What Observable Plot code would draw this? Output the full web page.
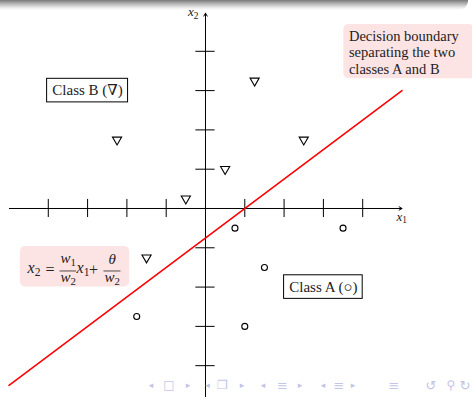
<!DOCTYPE html>
<html>
<head>
<meta charset="utf-8">
<script src="https://cdn.jsdelivr.net/npm/d3@7"></script>
<script src="https://cdn.jsdelivr.net/npm/@observablehq/plot@0.6"></script>
<style>
  html, body { margin: 0; padding: 0; background: #fff; }
  #slide { position: relative; width: 472px; height: 397px; overflow: hidden; background: #fff; }
  #slide svg { position: absolute; left: 0; top: 0; }
  .nav {
    position: absolute; transform: translate(-50%, -50%); z-index: 3;
    color: #c4c4e6; font-family: "DejaVu Sans", sans-serif; line-height: 1;
  }
</style>
</head>
<body>
<div id="slide"></div>
<script>
// Class B samples (drawn as ∇)
const classBx = [-2.25, 0.5, -0.5, 1.25, 2.5, -1.5];
const classBy = [1.75, 1, 0.25, 3.25, 1.75, -1.25];
// Class A samples (drawn as ○)
const classAx = [-1.75, 0.75, 3.5, 1.5, 1];
const classAy = [-2.75, -0.5, -0.5, -1.5, -3];
// Decision boundary x2 = 0.75 x1 - 0.75, end points
const boundaryX = [-5, 5];
const boundaryY = [-4.5, 3];
// Tick positions on both axes
const xTicks = [-4, -3, -2, -1, 1, 2, 3, 4];
const yTicks = [-4, -3, -2, -1, 1, 2, 3, 4];
// Beamer navigation glyphs along the bottom
const navGlyphs = ["◂", "□", "▸", "◂", "❐", "▸", "◂", "≡", "▸", "◂", "≡", "▸", "≡", "↺", "⚲", "↻"];
const navLeft = [151, 169, 188, 207.5, 222.5, 242, 263, 282.5, 300, 323, 339, 353, 394, 431, 451, 465];
const navSize = [9, 12, 9, 9, 12, 9, 9, 13, 9, 9, 13, 9, 13, 13, 12, 13];

const classB = classBx.map((x, i) => ({x, y: classBy[i]}));
const classA = classAx.map((x, i) => ({x, y: classAy[i]}));
const boundary = boundaryX.map((x, i) => ({x, y: boundaryY[i]}));

const serif = "'Liberation Serif', 'DejaVu Serif', serif";
const pink = "#fde4e4";
const ink = "#222";

const chart = Plot.plot({
  width: 472,
  height: 397,
  margin: 0,
  x: {domain: [-5.216, 6.794], range: [0, 472], axis: null},
  y: {domain: [-4.81, 5.293], range: [397, 0], axis: null},
  style: {background: "transparent", overflow: "visible"},
  marks: [
    // axes with arrow tips
    Plot.arrow([0], {x1: -4.99, x2: 5.0, y1: 0, y2: 0, stroke: "black", strokeWidth: 1, headLength: 5}),
    Plot.arrow([0], {x1: 0, x2: 0, y1: -4.9, y2: 4.97, stroke: "black", strokeWidth: 1, headLength: 5}),
    Plot.ruleX(xTicks, {x: d => d, y1: -0.23, y2: 0.23, stroke: "black", strokeWidth: 1}),
    Plot.ruleY(yTicks, {y: d => d, x1: -0.245, x2: 0.245, stroke: "black", strokeWidth: 1}),
    Plot.text(["x₁"], {x: 4.99, y: -0.2, fontFamily: serif, fontStyle: "italic", fontSize: 13, fill: ink}),
    Plot.text(["x₂"], {x: -0.31, y: 5.0, fontFamily: serif, fontStyle: "italic", fontSize: 13, fill: ink}),

    // decision boundary
    Plot.line(boundary, {x: "x", y: "y", stroke: "#ff0000", strokeWidth: 1.6}),

    // samples
    Plot.dot(classB, {x: "x", y: "y", symbol: "triangle", rotate: 180, r: 3.4, stroke: "black", strokeWidth: 1.1, fill: "none"}),
    Plot.dot(classA, {x: "x", y: "y", r: 3, stroke: "black", strokeWidth: 1.1, fill: "none"}),

    // class labels in framed boxes
    Plot.rect([0], {x1: -4.03, x2: -1.97, y1: 2.70, y2: 3.30, fill: "white", stroke: "black", strokeWidth: 1}),
    Plot.text(["Class B (∇)"], {x: -3.0, y: 3.0, fontFamily: serif, fontSize: 15, fill: ink}),
    Plot.rect([0], {x1: 2.0, x2: 4.0, y1: -2.30, y2: -1.70, fill: "white", stroke: "black", strokeWidth: 1}),
    Plot.text(["Class A (○)"], {x: 3.0, y: -2.0, fontFamily: serif, fontSize: 15, fill: ink}),

    // boundary note
    Plot.rect([0], {x1: 3.52, x2: 6.85, y1: 3.30, y2: 4.68, fill: pink, rx: 5}),
    Plot.text(["Decision boundary\nseparating the two\nclasses A and B"], {
      x: 3.65, y: 3.98, textAnchor: "start", lineAnchor: "middle", lineHeight: 1.12,
      fontFamily: serif, fontSize: 14.5, fill: ink
    }),

    // boundary equation
    Plot.rect([0], {x1: -4.71, x2: -1.93, y1: -2.0, y2: -0.97, fill: pink, rx: 5}),
    Plot.text(["x₂"], {x: -4.364, y: -1.50, fontFamily: serif, fontStyle: "italic", fontSize: 16, fill: ink}),
    Plot.text(["="], {x: -3.957, y: -1.55, fontFamily: serif, fontSize: 16, fill: ink}),
    Plot.text(["w₁"], {x: -3.494, y: -1.27, fontFamily: serif, fontStyle: "italic", fontSize: 15, fill: ink}),
    Plot.ruleY([-1.59], {x1: -3.702, x2: -3.282, stroke: ink, strokeWidth: 0.8}),
    Plot.text(["w₂"], {x: -3.494, y: -1.76, fontFamily: serif, fontStyle: "italic", fontSize: 15, fill: ink}),
    Plot.text(["x₁"], {x: -3.117, y: -1.50, fontFamily: serif, fontStyle: "italic", fontSize: 16, fill: ink}),
    Plot.text(["+"], {x: -2.850, y: -1.55, fontFamily: serif, fontSize: 16, fill: ink}),
    Plot.text(["θ"], {x: -2.374, y: -1.29, fontFamily: serif, fontStyle: "italic", fontSize: 15, fill: ink}),
    Plot.ruleY([-1.59], {x1: -2.583, x2: -2.150, stroke: ink, strokeWidth: 0.8}),
    Plot.text(["w₂"], {x: -2.374, y: -1.76, fontFamily: serif, fontStyle: "italic", fontSize: 15, fill: ink})
  ]
});

// Typeset trailing subscript digits as lowered, smaller, upright tspans
const subDigits = {"₁": "1", "₂": "2"};
chart.querySelectorAll("text").forEach(t => {
  const s = t.textContent;
  if (t.children.length || !/[₁₂]$/.test(s)) return;
  const base = s.slice(0, -1);
  const sub = subDigits[s.slice(-1)];
  t.textContent = base;
  const ts = document.createElementNS("http://www.w3.org/2000/svg", "tspan");
  ts.setAttribute("dy", "0.28em");
  ts.setAttribute("font-size", "72%");
  ts.setAttribute("font-style", "normal");
  ts.textContent = sub;
  t.appendChild(ts);
});

// Header shading strip of the slide frame
const svg = d3.select(chart);
const grad = svg.append("defs").append("linearGradient")
  .attr("id", "header-shade").attr("x1", 0).attr("y1", 0).attr("x2", 0).attr("y2", 1);
grad.append("stop").attr("offset", "0%").attr("stop-color", "#7a7a7a");
grad.append("stop").attr("offset", "40%").attr("stop-color", "#b8b8b8");
grad.append("stop").attr("offset", "75%").attr("stop-color", "#e8e8e8");
grad.append("stop").attr("offset", "100%").attr("stop-color", "#ffffff");
svg.append("path")
  .attr("d", "M0,0H468V1A9,9 0 0 1 459,10H0Z")
  .attr("fill", "url(#header-shade)");

const slide = document.getElementById("slide");
slide.appendChild(chart);

navGlyphs.forEach((g, i) => {
  const s = document.createElement("span");
  s.className = "nav";
  s.textContent = g;
  s.style.left = navLeft[i] + "px";
  s.style.top = "385px";
  s.style.fontSize = navSize[i] + "px";
  slide.appendChild(s);
});
</script>
</body>
</html>
